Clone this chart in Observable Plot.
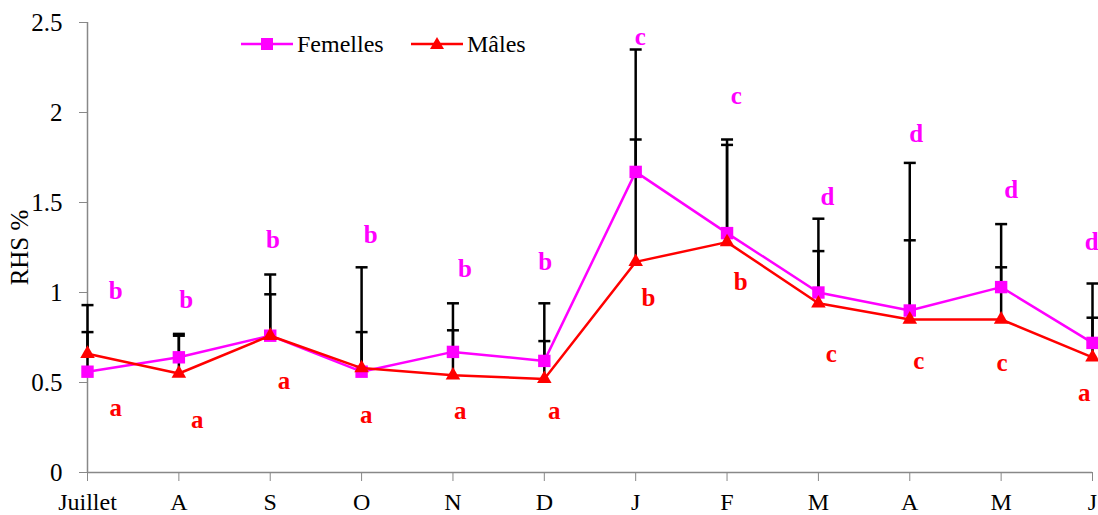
<!DOCTYPE html>
<html>
<head>
<meta charset="utf-8">
<script src="https://cdn.jsdelivr.net/npm/d3@7"></script>
<script src="https://cdn.jsdelivr.net/npm/@observablehq/plot@0.6"></script>
<style>
  body { margin: 0; background: #fff; }
  #chart { position: relative; width: 1098px; height: 515px; font-family: "Liberation Serif", "Times New Roman", serif; }
  .legend-item { position: absolute; top: 34px; display: flex; align-items: center; font-size: 24px; color: #000;
                 font-family: "Liberation Serif", "Times New Roman", serif; line-height: 20px; }
  .legend-item svg { display: block; margin-right: 4px; }
</style>
</head>
<body>
<div id="chart"></div>
<script>
// Months of the sampling year (July to June)
const months = ["Juillet", "A", "S", "O", "N", "D", "J", "F", "M", "A", "M", "J"];

// Mean RHS % per month
const femelles = [0.56, 0.64, 0.76, 0.56, 0.67, 0.62, 1.67, 1.33, 1.00, 0.90, 1.03, 0.72];
const males    = [0.66, 0.55, 0.76, 0.58, 0.54, 0.52, 1.17, 1.28, 0.94, 0.85, 0.85, 0.64];

// Upper end of the error bars (mean + SE)
const femellesTop = [0.93, 0.77, 1.10, 1.14, 0.94, 0.94, 2.35, 1.85, 1.41, 1.72, 1.38, 1.05];
const malesTop    = [0.78, 0.76, 0.99, 0.78, 0.79, 0.73, 1.85, 1.82, 1.23, 1.29, 1.14, 0.86];

// Significance letters
const lettresF = ["b", "b", "b", "b", "b", "b", "c", "c", "d", "d", "d", "d"];
const lettresM = ["a", "a", "a", "a", "a", "a", "b", "b", "c", "c", "c", "a"];

// Where each letter sits: [month offset, RHS value]
const placeF = [[0.31, 1.01], [0.08, 0.96], [0.03, 1.29], [0.10, 1.32], [0.13, 1.13], [0.01, 1.17],
                [0.05, 2.42], [0.10, 2.09], [0.10, 1.53], [0.07, 1.88], [0.11, 1.57], [-0.01, 1.28]];
const placeM = [[0.31, 0.36], [0.20, 0.29], [0.15, 0.51], [0.05, 0.32], [0.08, 0.34], [0.11, 0.34],
                [0.14, 0.97], [0.15, 1.06], [0.14, 0.66], [0.10, 0.62], [0.01, 0.61], [-0.09, 0.44]];

const yTicks = [0, 0.5, 1, 1.5, 2, 2.5];

const MAGENTA = "#ff00ff";
const RED = "#ff0000";

const rowsF = months.map((m, i) => ({i, v: femelles[i], top: femellesTop[i]}));
const rowsM = months.map((m, i) => ({i, v: males[i], top: malesTop[i]}));
const labF = placeF.map(([dx, y], i) => ({x: i + dx, y, t: lettresF[i]}));
const labM = placeM.map(([dx, y], i) => ({x: i + dx, y, t: lettresM[i]}));

// horizontal cap for the error bars
const cap = {
  draw(ctx, size) {
    const w = Math.sqrt(size / Math.PI);
    ctx.moveTo(-w, 0);
    ctx.lineTo(w, 0);
  }
};

const chart = Plot.plot({
  width: 1098,
  height: 515,
  marginTop: 22,
  marginBottom: 43,
  marginLeft: 87,
  marginRight: 6,
  style: {fontFamily: "'Liberation Serif', 'Times New Roman', serif", fontSize: "25px", background: "#fff", overflow: "visible"},
  x: {domain: [0, 11], label: null},
  y: {domain: [0, 2.5], label: null},
  marks: [
    Plot.axisY({ticks: yTicks, tickFormat: d => String(d), tickSize: 8, tickPadding: 17, fontSize: 25,
                stroke: "#888", fill: "#000", label: "RHS %", labelAnchor: "center", labelArrow: "none", labelOffset: 77}),
    Plot.axisX({ticks: d3.range(months.length), tickFormat: i => months[i], tickSize: 9, tickPadding: 11,
                fontSize: 24, stroke: "#888", fill: "#000", label: null}),
    Plot.ruleX([0], {stroke: "#888", strokeWidth: 1.5}),
    Plot.ruleY([0], {stroke: "#888", strokeWidth: 1.5}),

    // error bars
    Plot.ruleX(rowsF, {x: "i", y1: "v", y2: "top", stroke: "#000", strokeWidth: 2.5}),
    Plot.ruleX(rowsM, {x: "i", y1: "v", y2: "top", stroke: "#000", strokeWidth: 2.5}),
    Plot.dot(rowsF, {x: "i", y: "top", symbol: cap, r: 6, stroke: "#000", fill: "none", strokeWidth: 2.5}),
    Plot.dot(rowsM, {x: "i", y: "top", symbol: cap, r: 6, stroke: "#000", fill: "none", strokeWidth: 2.5}),

    // Femelles
    Plot.line(rowsF, {x: "i", y: "v", stroke: MAGENTA, strokeWidth: 2.5}),
    Plot.dot(rowsF, {x: "i", y: "v", symbol: "square", r: 7, fill: MAGENTA, stroke: "none"}),
    // Mâles
    Plot.line(rowsM, {x: "i", y: "v", stroke: RED, strokeWidth: 2.5}),
    Plot.dot(rowsM, {x: "i", y: "v", symbol: "triangle", r: 5.4, fill: RED, stroke: "none"}),

    // significance letters
    Plot.text(labF, {x: "x", y: "y", text: "t", fill: MAGENTA, fontWeight: "bold", fontSize: 25}),
    Plot.text(labM, {x: "x", y: "y", text: "t", fill: RED, fontWeight: "bold", fontSize: 25})
  ]
});

const host = document.getElementById("chart");
host.appendChild(chart);

// legend drawn inside the plot area
const legendF = document.createElement("div");
legendF.className = "legend-item";
legendF.style.left = "241px";
legendF.innerHTML = `<svg width="52" height="20"><line x1="0" y1="10" x2="52" y2="10" stroke="${MAGENTA}" stroke-width="2.5"/>
    <rect x="20" y="4" width="12" height="12" fill="${MAGENTA}"/></svg><span>Femelles</span>`;
host.appendChild(legendF);

const legendM = document.createElement("div");
legendM.className = "legend-item";
legendM.style.left = "411px";
legendM.innerHTML = `<svg width="52" height="20"><line x1="0" y1="10" x2="52" y2="10" stroke="${RED}" stroke-width="2.5"/>
    <polygon points="26,3 33,15 19,15" fill="${RED}"/></svg><span>Mâles</span>`;
host.appendChild(legendM);
</script>
</body>
</html>
